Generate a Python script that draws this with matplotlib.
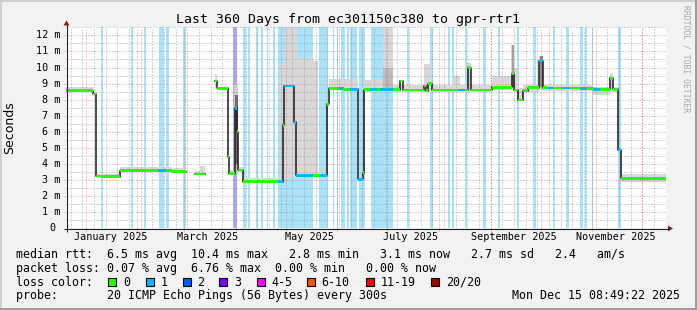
import numpy as np
import matplotlib
matplotlib.use('Agg')
import matplotlib.pyplot as plt
import matplotlib.dates as mdates
from matplotlib.patches import Rectangle, Polygon
from matplotlib.transforms import blended_transform_factory
from datetime import datetime, timedelta

nan = np.nan
END = datetime(2025, 12, 15, 8, 49, 22)
START = END - timedelta(days=360)
BASE = datetime(2025, 1, 1)

# ---- data (days since 2025-01-01, values in ms) ----
# median rtt step series and number of lost pings per step
med_day = [-11.7, 4.6, 5.9, 10.4, 20.6, 43.4, 48.2, 51.8, 59.9, 65.6, 71.6, 77.3, 78.8, 85.2, 85.7,
           89.3, 90.5, 91.6, 94.2, 115.4, 118.4, 119.2, 125.0, 125.9, 136.4, 140.6, 145.0, 145.8,
           152.0, 154.4, 158.6, 163.6, 166.2, 166.7, 170.6, 174.8, 176.6, 184.4, 188.6, 190.2,
           203.0, 204.2, 205.1, 207.5, 223.4, 227.6, 229.6, 231.0, 243.6, 255.6, 257.0, 259.6,
           262.2, 265.6, 272.2, 274.2, 276.6, 280.6, 286.4, 290.6, 296.6, 300.8, 304.6, 308.6,
           314.6, 316.6, 319.6, 321.0, 348.3]
med_ms = [8.55, 8.35, 3.25, 3.2, 3.58, 3.58, 3.58, 3.53, nan, 3.38, nan, 9.16, 8.7, 4.45, 3.4,
          7.47, 6.0, 3.62, 2.9, 2.9, 6.4, 8.85, 6.6, 3.3, 3.3, 3.3, 7.7, 8.7,
          8.7, 8.65, 8.64, 3.05, 3.46, 8.62, 8.62, 8.62, 8.62, 8.62, 9.16, 8.6,
          8.85, 8.55, 9.0, 8.6, 8.6, 8.6, 9.99, 8.6, 8.77, 9.6, 8.6, 7.98,
          8.56, 8.74, 10.4, 8.74, 8.72, 8.72, 8.72, 8.72, 8.7, 8.7, 8.64, 8.64,
          9.33, 8.64, 4.9, 3.1, nan]
med_loss = [0, 0, 0, 0, 0, 1, 0, 0, 0, 0, 0, 0, 0, 0, 0,
            1, 0, 0, 0, 1, 0, 1, 1, 1, 0, 1, 0, 0,
            1, 0, 1, 1, 0, 0, 1, 0, 1, 0, 0, 0,
            0, 0, 0, 0, 1, 0, 0, 0, 0, 0, 0, 0,
            0, 0, 1, 0, 1, 0, 1, 0, 1, 0, 1, 0,
            0, 0, 1, 0, 0]

# smoke (spread of the 20 pings)
smoke_start = [-11.7, 4.5, 5.9, 20.6, 51.8, 65.6, 68.6, 77.3, 78.8, 85.7, 89.0, 91.4, 94.2, 115.4,
               116.6, 119.6, 126.8, 136.4, 139.4, 145.8, 166.7, 178.4, 184.4, 203.0, 207.2, 220.4,
               224.6, 228.8, 231.2, 243.8, 255.2, 257.0, 259.4, 262.4, 272.0, 274.4, 304.4, 314.6,
               316.6, 321.0]
smoke_end = [4.5, 5.9, 20.6, 51.8, 59.9, 68.6, 71.6, 78.8, 85.2, 89.0, 91.4, 94.2, 115.4, 116.6,
             119.6, 126.8, 136.4, 139.4, 144.8, 163.4, 178.4, 184.4, 203.0, 207.2, 220.4, 224.6,
             228.8, 231.2, 243.8, 255.2, 257.0, 259.4, 262.4, 272.0, 274.4, 304.4, 314.6, 316.6,
             319.6, 348.3]
smoke_lo = [8.5, 8.25, 3.15, 3.5, 3.45, 3.3, 3.3, 8.7, 8.6, 3.3, 3.4, 3.5, 2.8, 2.85,
            3.0, 3.2, 3.2, 3.2, 3.25, 8.6, 8.5, 8.5, 8.5, 8.5, 8.5, 8.5,
            8.5, 8.5, 8.5, 8.6, 8.6, 8.5, 7.9, 8.5, 8.6, 8.55, 8.3, 8.5,
            8.5, 2.85]
smoke_hi = [8.8, 8.5, 3.35, 3.8, 3.75, 3.55, 3.9, 9.6, 8.8, 3.6, 9.0, 3.8, 3.1, 3.2,
            10.3, 13.0, 10.6, 10.4, 3.45, 9.3, 9.2, 13.0, 8.9, 10.2, 8.9, 9.5,
            8.9, 10.3, 8.9, 9.5, 11.4, 10.0, 8.7, 8.9, 10.7, 8.9, 8.8, 9.6,
            8.8, 3.35]
# denser inner smoke
dark_start = [89.3, 178.4, 255.5, 272.3]
dark_end = [91.1, 184.4, 256.7, 274.1]
dark_lo = [4.0, 8.6, 8.8, 8.8]
dark_hi = [8.3, 10.0, 11.4, 10.7]

# periods with packet loss (background), loss level
loss_start = [9.2, 27.2, 35.0, 44.2, 48.2, 58.6, 88.6, 94.6, 97.6, 102.2, 105.2, 108.6, 112.6,
              115.6, 140.2, 148.6, 150.6, 153.0, 156.6, 158.6, 164.2, 171.0, 192.6, 206.6, 217.6,
              219.6, 227.6, 238.6, 247.6, 258.6, 268.6, 280.2, 288.2, 296.6, 299.6, 303.6, 319.6]
loss_end = [10.6, 28.6, 36.2, 47.0, 50.0, 60.0, 91.0, 96.2, 98.6, 103.6, 106.6, 109.6, 113.6,
            136.6, 145.6, 149.2, 151.6, 155.6, 158.2, 162.6, 167.6, 184.6, 194.2, 208.2, 218.6,
            221.0, 229.0, 240.0, 248.6, 260.0, 270.0, 281.6, 290.0, 298.6, 301.0, 304.6, 321.0]
loss_lvl = [1, 1, 1, 1, 1, 1, 2, 1, 1, 1, 1, 1, 1,
            1, 1, 1, 1, 1, 1, 1, 1, 1, 1, 1, 1,
            1, 1, 1, 1, 1, 1, 1, 1, 1, 1, 1, 1]

yticks = list(range(13))
ytick_labels = ["0"] + [f"{i} m" for i in range(1, 13)]
month_label_days = [15, 73, 134, 195, 257, 318]
month_labels = ["January 2025", "March 2025", "May 2025", "July 2025",
                "September 2025", "November 2025"]
title = "Last 360 Days from ec301150c380 to gpr-rtr1"
legend_names = ["0", "1", "2", "3", "4-5", "6-10", "11-19", "20/20"]
legend_colors = ['#26ff00', '#00b8ff', '#0059ff', '#7e00ff', '#ff00ff', '#ff5500', '#ff0000', '#a10000']
row_rtt = "median rtt:  6.5 ms avg  10.4 ms max   2.8 ms min   3.1 ms now   2.7 ms sd   2.4   am/s"
row_loss = "packet loss: 0.07 % avg  6.76 % max  0.00 % min   0.00 % now"
row_probe = "probe:       20 ICMP Echo Pings (56 Bytes) every 300s"
stamp = "Mon Dec 15 08:49:22 2025"

# ---- drawing ----
MONO = 'DejaVu Sans Mono'
W, H = 697, 310
L, R, B, T = 66.3, 666.3, 228.3, 27.0
YMAX = 12.52
LOSS_BG = {1: '#A9E3FA', 2: '#A8B2F4'}

fig = plt.figure(figsize=(W / 100, H / 100), dpi=100, facecolor='#F2F2F2')
ax = fig.add_axes([L / W, 1 - B / H, (R - L) / W, (B - T) / H])
ax.set_facecolor('white')
ax.set_ylim(0, YMAX)
ax.set_xlim(mdates.date2num(START), mdates.date2num(END))
for s in ax.spines.values():
    s.set_visible(False)
ax.set_xticks([])
ax.set_yticks([])

b0 = mdates.date2num(BASE)
def dn(d):
    return b0 + np.asarray(d, dtype=float)

# loss background
for s, e, l in zip(loss_start, loss_end, loss_lvl):
    ax.axvspan(dn(s), dn(e), color=LOSS_BG[l], lw=0, zorder=1)

# smoke
ax.bar(dn(smoke_start), np.subtract(smoke_hi, smoke_lo), width=np.subtract(smoke_end, smoke_start),
       bottom=smoke_lo, align='edge', color='#D8D8D8', lw=0, zorder=2)
ax.bar(dn(dark_start), np.subtract(dark_hi, dark_lo), width=np.subtract(dark_end, dark_start),
       bottom=dark_lo, align='edge', color=['#6e6e6e', '#bdbdbd', '#a0a0a0', '#8c8c8c'], lw=0, zorder=2.5)

# grid
gray = (0.56, 0.56, 0.56, 0.75)
red = (0.87, 0.31, 0.31, 0.6)
dash = (0, (1, 2))
for v in np.arange(0.5, YMAX, 1.0):
    ax.axhline(v, color=gray, lw=0.72, ls=dash, zorder=3)
for v in range(1, 13):
    ax.axhline(v, xmin=-2 / 600, color=red, lw=0.72, ls=dash, zorder=3.1, clip_on=False)
d = datetime(2024, 12, 23)
while d < END:
    ax.axvline(mdates.date2num(d), color=gray, lw=0.72, ls=dash, zorder=3)
    d += timedelta(days=7)
for m in range(1, 13):
    ax.axvline(mdates.date2num(datetime(2025, m, 1)), ymin=-2.5 / 201.3, color=red, lw=0.72,
               ls=dash, zorder=3.1, clip_on=False)

# median line
md = dn(med_day)
ax.step(md, med_ms, where='post', color='#1a1a1a', lw=1.1, zorder=4)
HW = 1.4 / 16.08
for lvl in sorted(set(med_loss)):
    xs, ws, bs = [], [], []
    for i in range(len(med_day) - 1):
        v = med_ms[i]
        if med_loss[i] == lvl and not np.isnan(v):
            xs.append(md[i]); ws.append(md[i + 1] - md[i]); bs.append(v - HW)
    ax.bar(xs, [2 * HW] * len(xs), width=ws, bottom=bs, align='edge',
           color=legend_colors[lvl], lw=0, zorder=5)

# axis labels
ty = blended_transform_factory(ax.transAxes, ax.transData)
for v, lab in zip(yticks, ytick_labels):
    off = 10.8 if lab == "0" else 6.3
    ax.text(-off / 600, v, lab, transform=ty, ha='right', va='center', fontsize=7.3, family=MONO)
tx = blended_transform_factory(ax.transData, ax.transAxes)
for dd, lab in zip(month_label_days, month_labels):
    ax.text(dn(dd), -8.4 / 201.3, lab, transform=tx, ha='center', va='center', fontsize=7.3, family=MONO)

# overlay in pixel coordinates
ov = fig.add_axes([0, 0, 1, 1], zorder=10)
ov.set_xlim(0, W); ov.set_ylim(H, 0); ov.axis('off'); ov.patch.set_alpha(0)
ov.add_patch(Rectangle((0, 0), W, 2, color='#CFCFCF', lw=0))
ov.add_patch(Rectangle((0, 0), 2, H, color='#CFCFCF', lw=0))
ov.add_patch(Rectangle((0, H - 2.5), W, 2.5, color='#9E9E9E', lw=0))
ov.add_patch(Rectangle((W - 2.5, 0), 2.5, H, color='#9E9E9E', lw=0))

ov.plot([63.5, 668.5], [228.5, 228.5], color='#1f1f1f', lw=0.8, solid_capstyle='butt')
ov.plot([66.5, 66.5], [231.5, 25], color='#1f1f1f', lw=0.8, solid_capstyle='butt')
ov.add_patch(Polygon([(668, 225.5), (673, 228.5), (668, 231.5)], closed=True, color='#801f1f', lw=0))
ov.add_patch(Polygon([(63.5, 25.5), (66.5, 20.5), (69.5, 25.5)], closed=True, color='#801f1f', lw=0))

ov.text(347.5, 19, title, ha='center', va='center', fontsize=9.5, family=MONO)
ov.text(10, 128, 'Seconds', rotation=90, ha='center', va='center', fontsize=9, family='DejaVu Sans')
ov.text(686, 5, 'RRDTOOL / TOBI OETIKER', rotation=-90, ha='center', va='top', fontsize=5.8,
        color='#A5A5A5', family=MONO)

LF = 8.4
ov.text(16, 254.3, row_rtt, va='center', fontsize=LF, family=MONO)
ov.text(16, 268.3, row_loss, va='center', fontsize=LF, family=MONO)
ov.text(16, 282.3, "loss color:", va='center', fontsize=LF, family=MONO)
sw_x = [108.3, 145.7, 182.7, 219.3, 256.7, 306.7, 365.7, 431.0]
for x, c, n in zip(sw_x, legend_colors, legend_names):
    ov.add_patch(Rectangle((x, 278.3), 8, 8, facecolor=c, edgecolor='black', lw=0.8))
    ov.text(x + 14.7, 282.3, n, va='center', fontsize=LF, family=MONO)
ov.text(16, 295.7, row_probe, va='center', fontsize=LF, family=MONO)
ov.text(680, 295.7, stamp, ha='right', va='center', fontsize=LF, family=MONO)

fig.savefig('out.png', dpi=100, facecolor=fig.get_facecolor())
